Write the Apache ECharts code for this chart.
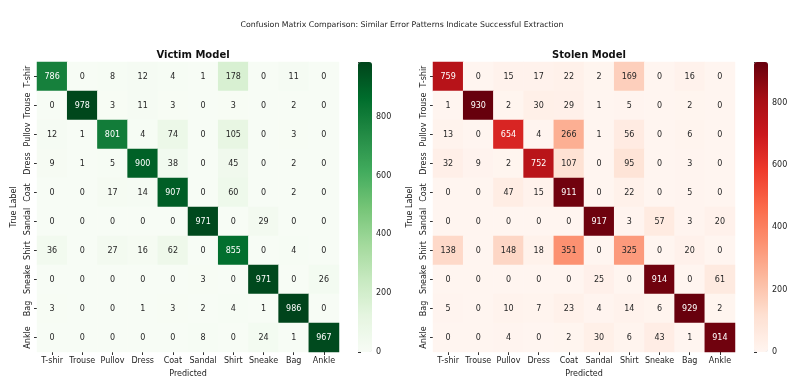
<!DOCTYPE html>
<html><head><meta charset="utf-8">
<script src="https://cdn.jsdelivr.net/npm/echarts@6/dist/echarts.min.js"></script>
<style>html,body{margin:0;padding:0;background:#fff}#c{width:804px;height:392px}</style>
</head><body><div id="c"></div>
<script>
const classes = ['T-shir','Trouse','Pullov','Dress','Coat','Sandal','Shirt','Sneake','Bag','Ankle'];
const victim = [
[786,0,8,12,4,1,178,0,11,0],
[0,978,3,11,3,0,3,0,2,0],
[12,1,801,4,74,0,105,0,3,0],
[9,1,5,900,38,0,45,0,2,0],
[0,0,17,14,907,0,60,0,2,0],
[0,0,0,0,0,971,0,29,0,0],
[36,0,27,16,62,0,855,0,4,0],
[0,0,0,0,0,3,0,971,0,26],
[3,0,0,1,3,2,4,1,986,0],
[0,0,0,0,0,8,0,24,1,967]
];
const stolen = [
[759,0,15,17,22,2,169,0,16,0],
[1,930,2,30,29,1,5,0,2,0],
[13,0,654,4,266,1,56,0,6,0],
[32,9,2,752,107,0,95,0,3,0],
[0,0,47,15,911,0,22,0,5,0],
[0,0,0,0,0,917,3,57,3,20],
[138,0,148,18,351,0,325,0,20,0],
[0,0,0,0,0,25,0,914,0,61],
[5,0,10,7,23,4,14,6,929,2],
[0,0,4,0,2,30,6,43,1,914]
];
const colorbarTicks = [0,200,400,600,800];
const mainTitle = 'Confusion Matrix Comparison: Similar Error Patterns Indicate Successful Extraction';
const titles = ['Victim Model','Stolen Model'];

const greens = ['#f7fcf5','#e5f5e0','#c7e9c0','#a1d99b','#74c476','#41ab5d','#238b45','#006d2c','#00441b'];
const reds = ['#fff5f0','#fee0d2','#fcbba1','#fc9272','#fb6a4a','#ef3b2c','#cb181d','#a50f15','#67000d'];
const FONT = 'DejaVu Sans';

function toData(m, max){
  const out=[];
  m.forEach((row,r)=>row.forEach((v,c)=>{
    out.push({value:[c,r,v], label:{color: v/max>0.6?'#ffffff':'#262626'}});
  }));
  return out;
}
const maxV = Math.max(...victim.flat());
const maxS = Math.max(...stolen.flat());

const gx = [37, 433], gw = 302, gt = 62, gh = 290;
const cbx = [358, 754], cbw = 14;
const grids=[], xAxes=[], yAxes=[], series=[], vms=[], tt=[];
tt.push({text:mainTitle,left:'center',top:16,textStyle:{fontFamily:FONT,fontSize:7.8,fontWeight:'normal',color:'#222'}});
[victim,stolen].forEach((m,i)=>{
  const mx = i===0?maxV:maxS;
  grids.push({left:gx[i],top:gt,width:gw,height:gh});
  grids.push({left:cbx[i],top:gt,width:cbw,height:gh});
  tt.push({text:titles[i],left:gx[i]+gw/2,top:45,textAlign:'center',textStyle:{fontFamily:FONT,fontSize:10,fontWeight:'bold',color:'#111'}});
  xAxes.push({type:'category',data:classes,gridIndex:2*i,position:'bottom',
    axisLine:{show:false},axisTick:{show:true,length:3,alignWithLabel:true,lineStyle:{color:'#333'}},
    axisLabel:{fontFamily:FONT,fontSize:8,color:'#222',margin:5,interval:0},
    name:'Predicted',nameLocation:'middle',nameGap:17,nameTextStyle:{fontFamily:FONT,fontSize:8,color:'#222'},
    splitArea:{show:false}});
  yAxes.push({type:'category',data:classes,gridIndex:2*i,inverse:true,
    axisLine:{show:false},axisTick:{show:true,length:3,alignWithLabel:true,lineStyle:{color:'#333'}},
    axisLabel:{fontFamily:FONT,fontSize:8,color:'#222',rotate:90,margin:5,interval:0},
    name:'True Label',nameLocation:'middle',nameGap:19,nameTextStyle:{fontFamily:FONT,fontSize:8,color:'#222'}});
  xAxes.push({type:'value',gridIndex:2*i+1,show:false,min:0,max:1});
  yAxes.push({type:'value',gridIndex:2*i+1,position:'right',min:0,max:mx,interval:200,
    axisLine:{show:false},splitLine:{show:false},axisTick:{show:true,length:3,lineStyle:{color:'#333'}},
    axisLabel:{fontFamily:FONT,fontSize:8,color:'#222',margin:4,
      formatter:v=>colorbarTicks.includes(v)?String(v):''}});
  series.push({type:'heatmap',xAxisIndex:2*i,yAxisIndex:2*i,data:toData(m,mx),
    label:{show:true,fontFamily:FONT,fontSize:8},itemStyle:{borderWidth:0}});
  vms.push({type:'continuous',seriesIndex:i,min:0,max:mx,calculable:false,show:true,
    left:cbx[i],top:gt,itemWidth:cbw,itemHeight:gh,padding:0,text:['',''],showLabel:false,
    inRange:{color:i===0?greens:reds}});
});
const chart = echarts.init(document.getElementById('c'),null,{renderer:'canvas'});
chart.setOption({backgroundColor:'#fff',animation:false,title:tt,grid:grids,xAxis:xAxes,yAxis:yAxes,series:series,visualMap:vms});
</script></body></html>
